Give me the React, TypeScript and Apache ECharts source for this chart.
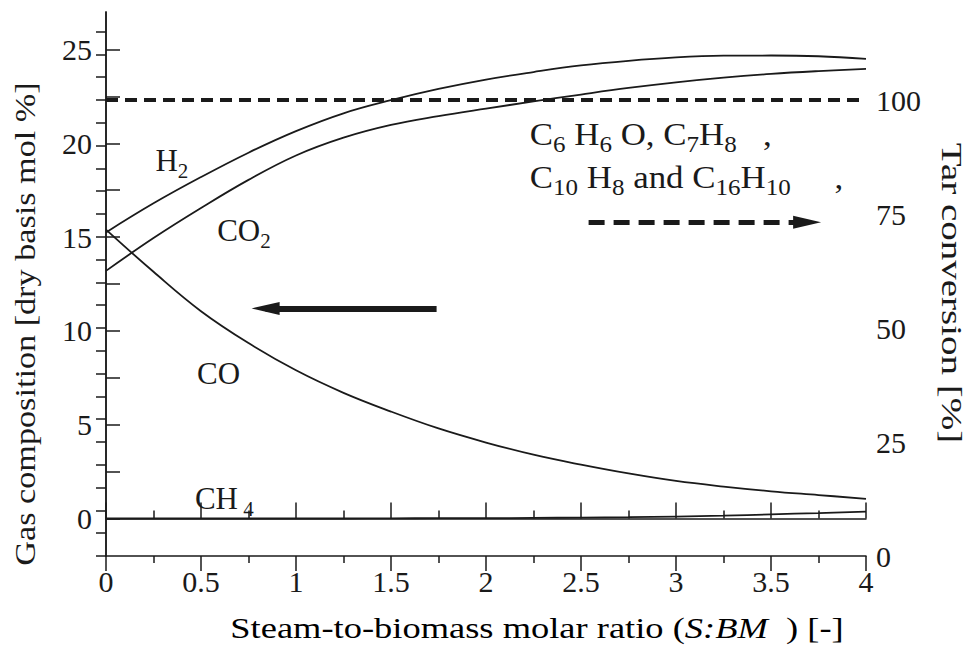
import React, { useEffect, useRef } from "react";
import * as echarts from "echarts";

// ---- data ----
const xGrid = [0, 0.25, 0.5, 0.75, 1.0, 1.25, 1.5, 1.75, 2.0, 2.25, 2.5, 2.75, 3.0, 3.25, 3.5, 3.75, 4.0];
const h2Values = [15.25, 16.8, 18.2, 19.5, 20.65, 21.6, 22.3, 22.9, 23.4, 23.8, 24.15, 24.4, 24.58, 24.67, 24.68, 24.64, 24.5];
const co2Values = [13.2, 14.95, 16.55, 18.05, 19.35, 20.3, 20.98, 21.45, 21.85, 22.23, 22.6, 22.95, 23.25, 23.5, 23.7, 23.85, 23.97];
const coValues = [15.4, 13.15, 11.05, 9.35, 7.9, 6.7, 5.7, 4.8, 4.05, 3.4, 2.87, 2.4, 2.0, 1.7, 1.45, 1.25, 1.05];
const ch4Values = [0, 0, 0, 0, 0, 0, 0.01, 0.015, 0.02, 0.03, 0.05, 0.07, 0.1, 0.15, 0.22, 0.29, 0.37];
const tarX = [0, 4];
const tarValues = [100, 100];

const xTickValues = [0, 0.5, 1, 1.5, 2, 2.5, 3, 3.5, 4];
const leftLabelValues = [0, 5, 10, 15, 20, 25];
const leftTickValues = [0, 2.5, 5, 7.5, 10, 12.5, 15, 17.5, 20, 22.5, 25];
const rightLabelValues = [0, 25, 50, 75, 100];
const rightTickValues = [0, 5, 10, 15, 20, 25, 30, 35, 40, 45, 50, 55, 60, 65, 70, 75, 80, 85, 90, 95, 100, 105, 110, 115];

// annotation arrows (left axis for solid, right axis for dashed)
const solidArrow: [number, number][] = [[1.74, 11.2], [0.84, 11.2]];
const dashedArrow: [number, number][] = [[2.54, 73.2], [3.69, 73.2]];

const FONT = "'Liberation Serif', 'DejaVu Serif', serif";
const INK = "#1a1a1a";

const zip = (xs: number[], ys: number[]) => xs.map((x, i) => [x, ys[i]]);

export default function App() {
  const ref = useRef<HTMLDivElement>(null);
  useEffect(() => {
    const chart = echarts.init(ref.current!, null, { renderer: "svg" });
    const axisLine = { show: true, lineStyle: { color: INK, width: 1.5 } };
    const lineSeries = (name: string, ys: number[]) => ({
      name,
      type: "line",
      data: zip(xGrid, ys),
      smooth: 0.4,
      showSymbol: false,
      symbol: "none",
      silent: true,
      lineStyle: { color: INK, width: 1.8 },
      z: 3,
    });
    const option: any = {
      animation: false,
      backgroundColor: "#ffffff",
      grid: { left: 106, right: 111, top: 12, bottom: 92 },
      xAxis: [
        {
          type: "value", min: 0, max: 4, interval: 0.5, position: "bottom",
          axisLine,
          axisTick: { show: true, inside: true, length: 16, lineStyle: { color: INK, width: 1.5 } },
          minorTick: { show: true, splitNumber: 2, length: 8, lineStyle: { color: INK, width: 1.5 } },
          splitLine: { show: false },
          minorSplitLine: { show: false },
          axisLabel: {
            show: true, margin: 10, color: INK, fontFamily: FONT, fontSize: 30,
            formatter: (v: number) => (xTickValues.includes(v) ? String(v) : ""),
          },
        },
        {
          type: "value", min: 0, max: 4, interval: 0.5, position: "top",
          axisLine,
          axisTick: { show: true, inside: true, length: 15, lineStyle: { color: INK, width: 1.5 } },
          minorTick: { show: true, splitNumber: 2, length: 7, lineStyle: { color: INK, width: 1.5 } },
          splitLine: { show: false },
          axisLabel: { show: false },
        },
      ],
      yAxis: [
        {
          type: "value", min: -2, max: 27, position: "left",
          axisLine,
          axisTick: { show: true, inside: true, length: 14, customValues: leftTickValues, lineStyle: { color: INK, width: 1.5 } },
          axisLabel: { show: true, margin: 14, customValues: leftLabelValues, color: INK, fontFamily: FONT, fontSize: 30 },
          splitLine: { show: false },
        },
        {
          type: "value", min: 0, max: 119.3, position: "right",
          axisLine,
          axisTick: { show: true, inside: true, length: 10, customValues: rightTickValues, lineStyle: { color: INK, width: 1.5 } },
          axisLabel: { show: true, margin: 10, customValues: rightLabelValues, color: INK, fontFamily: FONT, fontSize: 30 },
          splitLine: { show: false },
        },
      ],
      series: [
        lineSeries("H2", h2Values),
        lineSeries("CO2", co2Values),
        {
          ...lineSeries("CO", coValues),
          markLine: {
            silent: true,
            symbol: ["none", "triangle"],
            symbolSize: [13, 28],
            label: { show: false },
            lineStyle: { color: INK, width: 6, type: "solid" },
            data: [[{ coord: solidArrow[0] }, { coord: solidArrow[1] }]],
          },
        },
        lineSeries("CH4", ch4Values),
        {
          name: "Tar conversion",
          type: "line",
          yAxisIndex: 1,
          data: zip(tarX, tarValues),
          showSymbol: false,
          symbol: "none",
          silent: true,
          lineStyle: { color: INK, width: 4, type: [12, 7] },
          z: 2,
          markLine: {
            silent: true,
            symbol: ["none", "triangle"],
            symbolSize: [13, 28],
            label: { show: false },
            lineStyle: { color: INK, width: 5, type: [16, 9] },
            data: [[{ coord: dashedArrow[0] }, { coord: dashedArrow[1] }]],
          },
        },
      ],
    };
    chart.setOption(option);

    const px = (x: number, y: number) =>
      chart.convertToPixel({ xAxisIndex: 0, yAxisIndex: 0 }, [x, y]) as number[];

    const rich = {
      n: { fontFamily: FONT, fontSize: 31, lineHeight: 31, color: INK, verticalAlign: "middle" },
      s: { fontFamily: FONT, fontSize: 21, lineHeight: 21, color: INK, padding: [20, 0, 0, 0], verticalAlign: "middle" },
      sn: { fontFamily: FONT, fontSize: 32, lineHeight: 32, color: INK, verticalAlign: "middle" },
      ss: { fontFamily: FONT, fontSize: 23, lineHeight: 23, color: INK, padding: [20, 0, 0, 0], verticalAlign: "middle" },
    };
    const label = (x: number, y: number, text: string, scaleX = 1) => {
      const p = px(x, y);
      return {
        type: "text", x: p[0], y: p[1], scaleX, silent: true, z: 10,
        style: { text, rich, align: "left", verticalAlign: "middle", fill: INK },
      };
    };
    const graphic: any[] = [
      label(0.26, 19.07, "{n|H}{s|2}"),
      label(0.585, 15.33, "{n|CO}{s|2}"),
      label(0.479, 7.75, "{n|CO}"),
      label(0.468, 1.05, "{n|CH}{s| 4}"),
      label(2.23, 20.5, "{sn|C}{ss|6}{sn| H}{ss|6}{sn| O, C}{ss|7}{sn|H}{ss|8}{sn|   ,}", 1.09),
      label(2.23, 18.2, "{sn|C}{ss|10}{sn| H}{ss|8}{sn| and C}{ss|16}{sn|H}{ss|10}{sn|     ,}", 1.09),
      {
        type: "text", x: 537, y: 628, scaleX: 1.215, silent: true,
        style: {
          text: "{t|Steam-to-biomass molar ratio (}{i|S:BM}{t|  ) [-]}",
          align: "center", verticalAlign: "middle",
          rich: {
            t: { fontFamily: FONT, fontSize: 30, color: INK },
            i: { fontFamily: FONT, fontSize: 30, fontStyle: "italic", color: INK },
          },
        },
      },
      {
        type: "text", x: 25, y: 324, rotation: Math.PI / 2, scaleX: 1.14, silent: true,
        style: {
          text: "Gas composition [dry basis mol %]",
          align: "center", verticalAlign: "middle",
          fontFamily: FONT, fontSize: 30, fill: INK,
        },
      },
      {
        type: "text", x: 952, y: 293, rotation: -Math.PI / 2, scaleX: 1.3, silent: true,
        style: {
          text: "Tar conversion [%]",
          align: "center", verticalAlign: "middle",
          fontFamily: FONT, fontSize: 30, fill: INK,
        },
      },
    ];
    chart.setOption({ graphic });

    return () => chart.dispose();
  }, []);
  return (
    <div
      ref={ref}
      style={{ position: "fixed", left: 0, top: 0, width: 977, height: 648, background: "#fff" }}
    />
  );
}
